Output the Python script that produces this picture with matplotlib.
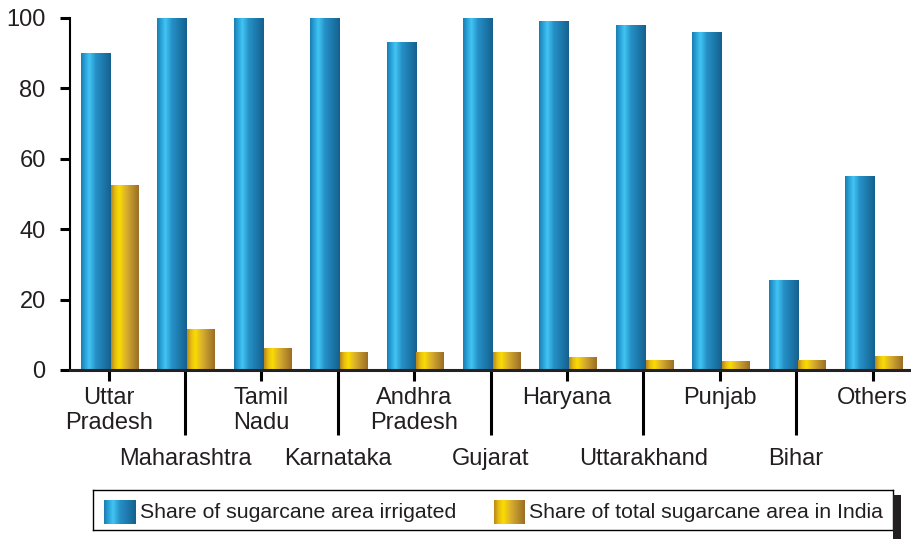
import numpy as np
import matplotlib.pyplot as plt
from matplotlib.colors import LinearSegmentedColormap
from matplotlib.patches import Rectangle

plt.rcParams['font.family'] = ['Liberation Sans', 'DejaVu Sans']

states = ["Uttar\nPradesh", "Maharashtra", "Tamil\nNadu", "Karnataka", "Andhra\nPradesh",
          "Gujarat", "Haryana", "Uttarakhand", "Punjab", "Bihar", "Others"]
irrigated = [90, 100, 100, 100, 93, 100, 99, 98, 96, 25.5, 55]
area_share = [52.5, 11.5, 6, 5, 5, 5, 3.5, 2.8, 2.3, 2.8, 3.7]

blue_cmap = LinearSegmentedColormap.from_list("blue", [
    (0.0, "#1a7cb0"), (0.12, "#279dd4"), (0.28, "#42c5f3"), (0.5, "#2590c6"),
    (0.8, "#1b74a6"), (1.0, "#155f8d")])
gold_cmap = LinearSegmentedColormap.from_list("gold", [
    (0.0, "#b8861c"), (0.15, "#e6be12"), (0.3, "#fbdc02"), (0.55, "#d8ae2e"),
    (1.0, "#9a6d26")])
grad = np.linspace(0, 1, 256).reshape(1, -1)

fig = plt.figure(figsize=(9.12, 5.39), dpi=100)
ax = fig.add_axes([70 / 912, 1 - 370 / 539, 840 / 912, 352 / 539])

x = np.arange(len(states))
b1 = ax.bar(x - 0.36, irrigated, width=0.39, align='edge', color='none', zorder=2)
b2 = ax.bar(x + 0.03, area_share, width=0.36, align='edge', color='none', zorder=2)

# paint each bar with a horizontal shading
for bars, cmap in ((b1, blue_cmap), (b2, gold_cmap)):
    for p in bars:
        x0, w, h = p.get_x(), p.get_width(), p.get_height()
        ax.imshow(grad, extent=[x0, x0 + w, 0, h], aspect='auto', cmap=cmap,
                  interpolation='bilinear', zorder=2)

ax.set_xlim(-0.505, 10.49)
ax.set_ylim(0, 100)
ax.set_yticks([0, 20, 40, 60, 80, 100])

for s in ['top', 'right']:
    ax.spines[s].set_visible(False)
ax.spines['left'].set_linewidth(1.5)
ax.spines['bottom'].set_linewidth(2.2)
ax.spines['bottom'].set_color('#222222')

ax.tick_params(axis='y', length=7.5, width=2.2, pad=10, labelsize=17,
               colors='black', labelcolor='#231f20')

# alternate labels between two rows with short and long ticks
ax.set_xticks(x[::2], [states[i] for i in x[::2]])
ax.set_xticks(x[1::2], [states[i] for i in x[1::2]], minor=True)
ax.tick_params(axis='x', which='major', length=8, width=2.2, pad=4, labelsize=17,
               labelcolor='#231f20')
ax.tick_params(axis='x', which='minor', length=47, width=2.2, pad=9, labelsize=17,
               labelcolor='#231f20')

# legend box
lax = fig.add_axes([93 / 912, 1 - 530 / 539, 800 / 912, 40 / 539])
lax.set_xticks([])
lax.set_yticks([])
for s in lax.spines.values():
    s.set_linewidth(1.0)
lax.imshow(grad, extent=[11, 43, 6, 30], aspect='auto', cmap=blue_cmap, interpolation='bilinear')
lax.imshow(grad, extent=[401, 432, 6, 30], aspect='auto', cmap=gold_cmap, interpolation='bilinear')
lax.set_xlim(0, 800)
lax.set_ylim(0, 40)
lax.text(47, 18, "Share of sugarcane area irrigated", fontsize=15.3, va='center', color='#231f20')
lax.text(436, 18, "Share of total sugarcane area in India", fontsize=15.3, va='center', color='#231f20')
fig.patches.append(Rectangle((893 / 912, 0), 8 / 912, 44 / 539, transform=fig.transFigure,
                             facecolor='#231f20', edgecolor='none'))

plt.savefig("out.png", dpi=100)
